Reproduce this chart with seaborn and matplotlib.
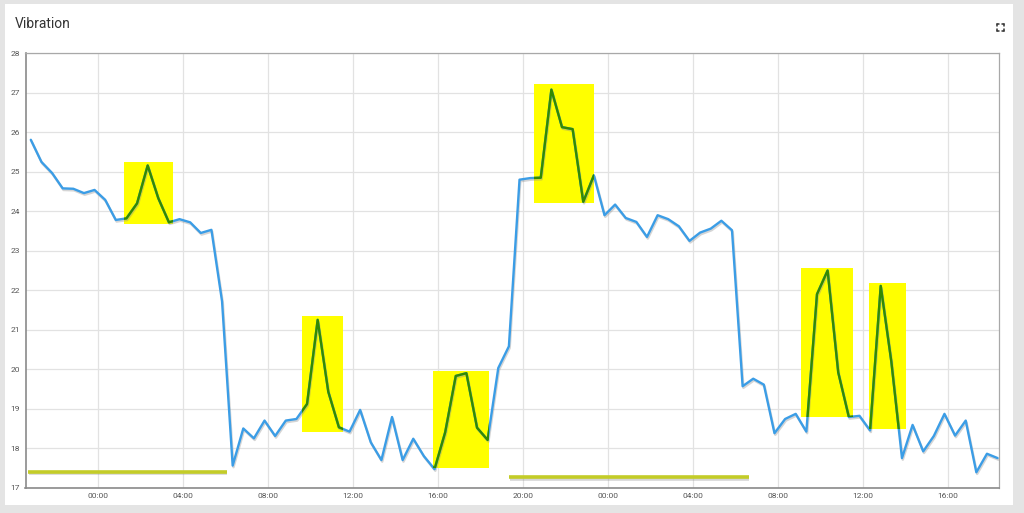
import pandas as pd
import matplotlib
matplotlib.use("Agg")
import matplotlib.pyplot as plt
import matplotlib.dates as mdates
import matplotlib.patheffects as pe
from matplotlib.patches import Rectangle, FancyBboxPatch
from matplotlib.lines import Line2D
import seaborn as sns

# vibration readings, every 30 minutes
start_time = "2023-01-01 20:50"
vibration = [
    25.81, 25.25, 24.97, 24.58, 24.57, 24.46, 24.54, 24.29, 23.78, 23.82,
    24.20, 25.16, 24.33, 23.72, 23.80, 23.72, 23.45, 23.53, 21.72, 17.56,
    18.50, 18.25, 18.70, 18.31, 18.70, 18.74, 19.12, 21.25, 19.43, 18.53,
    18.42, 18.97, 18.15, 17.70, 18.79, 17.70, 18.24, 17.80, 17.47, 18.40,
    19.83, 19.90, 18.52, 18.21, 20.03, 20.58, 24.80, 24.84, 24.85, 27.08,
    26.13, 26.08, 24.24, 24.91, 23.90, 24.17, 23.83, 23.73, 23.35, 23.90,
    23.80, 23.62, 23.25, 23.46, 23.56, 23.76, 23.52, 19.57, 19.76, 19.61,
    18.38, 18.74, 18.87, 18.42, 21.90, 22.50, 19.92, 18.79, 18.82, 18.45,
    22.11, 20.19, 17.75, 18.59, 17.92, 18.31, 18.87, 18.32, 18.70, 17.39,
    17.86, 17.75,
]

# anomaly windows (highlighted in yellow)
anomaly_start = ["2023-01-02 01:12", "2023-01-02 09:36", "2023-01-02 15:46",
                 "2023-01-02 20:31", "2023-01-03 09:04", "2023-01-03 12:18"]
anomaly_end = ["2023-01-02 03:32", "2023-01-02 11:32", "2023-01-02 18:24",
               "2023-01-02 23:20", "2023-01-03 11:33", "2023-01-03 14:02"]
anomaly_low = [23.68, 18.40, 17.50, 24.21, 18.80, 18.48]
anomaly_high = [25.24, 21.36, 19.96, 27.21, 22.56, 22.19]

# baseline periods
period_start = ["2023-01-01 20:43", "2023-01-02 19:20"]
period_end = ["2023-01-02 06:03", "2023-01-03 06:37"]
period_level = [17.41, 17.26]

blue = "#3b9de6"
green = "#348a00"
yellow = "#ffff00"
olive = "#c3cc28"

df = pd.DataFrame({
    "time": pd.date_range(start_time, periods=len(vibration), freq="30min"),
    "value": vibration,
})

sns.set_theme(style="whitegrid")
plt.rcParams["font.family"] = ["Roboto", "DejaVu Sans"]

fig = plt.figure(figsize=(10.24, 5.13), dpi=100)
fig.patch.set_facecolor("#e4e4e4")
card = FancyBboxPatch((5 / 1024, 8 / 513), 1008 / 1024, 501 / 513,
                      boxstyle="square,pad=0", transform=fig.transFigure,
                      facecolor="white", edgecolor="none", zorder=-1)
fig.patches.append(card)

ax = fig.add_axes([25.5 / 1024, 1 - 487.7 / 513, 973.5 / 1024, 434.4 / 513])
ax.set_facecolor("white")

shadow = [pe.SimpleLineShadow(offset=(0.6, -1.2), shadow_color="#888888", alpha=0.35),
          pe.Normal()]

# anomaly boxes
boxes = []
for s, e, lo, hi in zip(anomaly_start, anomaly_end, anomaly_low, anomaly_high):
    x0 = mdates.date2num(pd.Timestamp(s))
    x1 = mdates.date2num(pd.Timestamp(e))
    rect = Rectangle((x0, lo), x1 - x0, hi - lo, facecolor=yellow,
                     edgecolor="none", zorder=1.5)
    ax.add_patch(rect)
    boxes.append(rect)

# baseline periods
for s, e, lvl in zip(period_start, period_end, period_level):
    ax.hlines(lvl, pd.Timestamp(s), pd.Timestamp(e), colors=olive, lw=2.6,
              zorder=2, path_effects=shadow)

sns.lineplot(data=df, x="time", y="value", color=blue, lw=1.7, ax=ax, zorder=3)
ax.lines[-1].set_path_effects(shadow)

# green line inside each anomaly box
for rect in boxes:
    sns.lineplot(data=df, x="time", y="value", color=green, lw=1.7, ax=ax, zorder=4)
    ax.lines[-1].set_clip_path(rect)

ax.set_xlim(pd.Timestamp("2023-01-01 20:35"), pd.Timestamp("2023-01-03 18:24"))
ax.set_ylim(17, 28)
ax.set_yticks(range(17, 29))
ax.xaxis.set_major_locator(mdates.HourLocator(byhour=[0, 4, 8, 12, 16, 20]))
ax.xaxis.set_major_formatter(mdates.DateFormatter("%H:%M"))
ax.set_xlabel("")
ax.set_ylabel("")
ax.grid(True, color="#e2e2e2", lw=0.9)
ax.tick_params(axis="both", length=0, labelsize=6, labelcolor="#555555", pad=4)
for side in ["left", "bottom"]:
    ax.spines[side].set_color("#8a8a8a")
    ax.spines[side].set_linewidth(1.2)
for side in ["top", "right"]:
    ax.spines[side].set_color("#a8a8a8")
    ax.spines[side].set_linewidth(0.9)

fig.text(15 / 1024, 1 - 24 / 513, "Vibration", fontsize=10, color="#333333",
         ha="left", va="center")

# expand icon (top right)
cx, cy, h, a = 1000, 27, 3.5, 2
for dx, dy in [(-1, -1), (1, -1), (-1, 1), (1, 1)]:
    px, py = cx + dx * h, cy + dy * h
    fig.add_artist(Line2D([px / 1024, (px - dx * a) / 1024],
                          [1 - py / 513, 1 - py / 513], color="#333333", lw=1.1))
    fig.add_artist(Line2D([px / 1024, px / 1024],
                          [1 - py / 513, 1 - (py - dy * a) / 513], color="#333333", lw=1.1))

fig.savefig("out.png", dpi=100, facecolor=fig.get_facecolor())
